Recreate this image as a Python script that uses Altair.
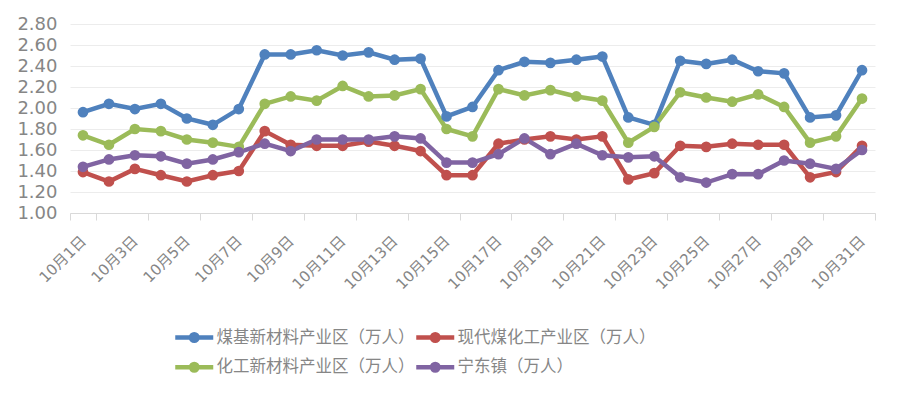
import altair as alt
import pandas as pd

dates = [f"10月{i}日" for i in range(1, 32)]
series = ["煤基新材料产业区（万人）", "化工新材料产业区（万人）",
          "现代煤化工产业区（万人）", "宁东镇（万人）"]
colors = ["#4F81BD", "#9BBB59", "#C0504D", "#8064A2"]

blue = [1.96, 2.04, 1.99, 2.04, 1.90, 1.84, 1.99, 2.51, 2.51, 2.55, 2.50, 2.53, 2.46, 2.47, 1.92, 2.01,
        2.36, 2.44, 2.43, 2.46, 2.49, 1.91, 1.84, 2.45, 2.42, 2.46, 2.35, 2.33, 1.91, 1.93, 2.36]
red = [1.39, 1.30, 1.42, 1.36, 1.30, 1.36, 1.40, 1.78, 1.65, 1.64, 1.64, 1.68, 1.64, 1.59, 1.36, 1.36,
       1.66, 1.70, 1.73, 1.70, 1.73, 1.32, 1.38, 1.64, 1.63, 1.66, 1.65, 1.65, 1.34, 1.39, 1.64]
green = [1.74, 1.65, 1.80, 1.78, 1.70, 1.67, 1.63, 2.04, 2.11, 2.07, 2.21, 2.11, 2.12, 2.18, 1.80, 1.73,
         2.18, 2.12, 2.17, 2.11, 2.07, 1.67, 1.82, 2.15, 2.10, 2.06, 2.13, 2.01, 1.67, 1.73, 2.09]
purple = [1.44, 1.51, 1.55, 1.54, 1.47, 1.51, 1.58, 1.66, 1.59, 1.70, 1.70, 1.70, 1.73, 1.71, 1.48, 1.48,
          1.56, 1.71, 1.56, 1.66, 1.55, 1.53, 1.54, 1.34, 1.29, 1.37, 1.37, 1.50, 1.47, 1.42, 1.60]
y_ticks = [1.0, 1.2, 1.4, 1.6, 1.8, 2.0, 2.2, 2.4, 2.6, 2.8]

# drawing order: blue, red, green, purple (purple on top)
draw_order = {series[0]: 0, series[2]: 1, series[1]: 2, series[3]: 3}
rows = []
for name, vals in zip(series, [blue, green, red, purple]):
    for d, v in zip(dates, vals):
        rows.append({"date": d, "series": name, "value": v, "k": draw_order[name]})
df = pd.DataFrame(rows)

cjk = "Noto Sans CJK SC"
num_font = "'DejaVu Sans', 'Noto Sans CJK SC'"
gray = "#868686"
sym = "M-3.8,0L3.8,0M0.65,0A0.65,0.65,0,1,1,-0.65,0A0.65,0.65,0,1,1,0.65,0Z"

chart = alt.Chart(df).mark_line(
    strokeWidth=4.5,
    point=alt.OverlayMarkDef(filled=True, size=115, opacity=1),
).encode(
    x=alt.X("date:N", sort=dates, bandPosition=0.5,
            scale=alt.Scale(type="band", paddingInner=0, paddingOuter=0),
            axis=alt.Axis(values=dates[::2], tickBand="extent", title=None,
                          labelAngle=-45, labelAlign="right", labelBaseline="middle",
                          labelFont=num_font, labelFontSize=15, labelColor=gray,
                          grid=False, domainColor="#d9d9d9", tickColor="#d9d9d9",
                          tickSize=7, labelPadding=18)),
    y=alt.Y("value:Q", scale=alt.Scale(domain=[1, 2.8], nice=False, zero=False),
            axis=alt.Axis(values=y_ticks, format=".2f", title=None, ticks=False,
                          domain=False, gridColor="#ececec", labelPadding=13,
                          labelFont=num_font, labelFontSize=18, labelColor=gray)),
    color=alt.Color("series:N", scale=alt.Scale(domain=series, range=colors),
                    legend=alt.Legend(orient="none", legendX=116, legendY=305, columns=2,
                                      title=None, symbolType=sym, symbolSize=100,
                                      symbolStrokeWidth=4.5, labelOffset=14,
                                      labelFont=cjk, labelFontSize=16.5, labelColor=gray,
                                      labelLimit=400,
                                      rowPadding=5, columnPadding=-8, padding=0,
                                      symbolOffset=0, symbolOpacity=1)),
    order=alt.Order("k:Q"),
).properties(
    width=805, height=189,
    autosize=alt.AutoSizeParams(type="none"),
    padding={"left": 62, "top": 16, "right": 17, "bottom": 178},
    background="white",
).configure_view(stroke=None)

chart.save("out.html", embed_options={"renderer": "svg", "actions": False})
